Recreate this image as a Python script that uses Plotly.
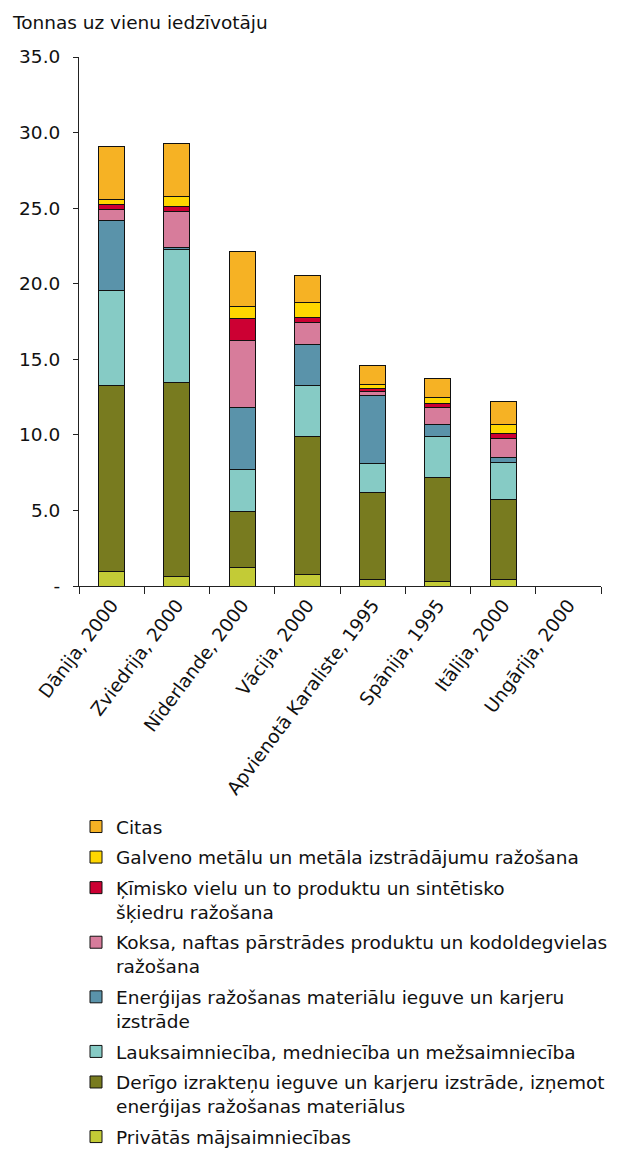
import plotly.graph_objects as go

countries = [
    "Dānija, 2000", "Zviedrija, 2000", "Nīderlande, 2000", "Vācija, 2000",
    "Apvienotā Karaliste, 1995", "Spānija, 1995", "Itālija, 2000", "Ungārija, 2000",
]

# tonnes per inhabitant, by source sector (Ungārija: no data)
privatas = [0.97, 0.64, 1.21, 0.75, 0.40, 0.29, 0.40, None]
derigo = [12.28, 12.85, 3.71, 9.14, 5.76, 6.86, 5.30, None]
lauksaimn = [6.31, 8.76, 2.81, 3.36, 1.92, 2.72, 2.49, None]
energijas = [4.63, 0.16, 4.06, 2.71, 4.50, 0.79, 0.33, None]
koksa = [0.69, 2.34, 4.48, 1.46, 0.31, 1.13, 1.24, None]
kimisko = [0.33, 0.33, 1.46, 0.35, 0.16, 0.26, 0.35, None]
galveno = [0.33, 0.70, 0.73, 1.00, 0.31, 0.42, 0.57, None]
citas = [3.51, 3.47, 3.70, 1.79, 1.23, 1.24, 1.55, None]

y_ticks = [0, 5, 10, 15, 20, 25, 30, 35]
y_tick_text = ["-", "5.0", "10.0", "15.0", "20.0", "25.0", "30.0", "35.0"]

# stacked bottom-to-top
series = [
    ("Privātās mājsaimniecības", privatas, "#C3CB36"),
    ("Derīgo izrakteņu ieguve un karjeru izstrāde, izņemot<br>enerģijas ražošanas materiālus", derigo, "#787B1F"),
    ("Lauksaimniecība, medniecība un mežsaimniecība", lauksaimn, "#86CBC5"),
    ("Enerģijas ražošanas materiālu ieguve un karjeru<br>izstrāde", energijas, "#5A93AA"),
    ("Koksa, naftas pārstrādes produktu un kodoldegvielas<br>ražošana", koksa, "#D77C9B"),
    ("Ķīmisko vielu un to produktu un sintētisko<br>šķiedru ražošana", kimisko, "#CC0033"),
    ("Galveno metālu un metāla izstrādājumu ražošana", galveno, "#FFD600"),
    ("Citas", citas, "#F6B224"),
]

FONT = "Verdana, DejaVu Sans, sans-serif"
FS = 18.5
INK = "#111111"
W, H = 630, 1149
L, R, T, B = 79, 29, 57, 563

fig = go.Figure()
n = len(series)
for i, (name, vals, color) in enumerate(series):
    fig.add_trace(go.Bar(
        x=countries, y=vals, name=name,
        legendgroup=f"g{i}", legendrank=n - i,
        marker=dict(color=color, line=dict(color=INK, width=1)),
    ))

plot_h = H - T - B
plot_w = W - L - R

fig.update_layout(
    width=W, height=H,
    barmode="stack", bargap=0.6,
    plot_bgcolor="white", paper_bgcolor="white",
    font=dict(family=FONT, size=FS, color=INK),
    margin=dict(l=L, r=R, t=T, b=B, autoexpand=False),
    title=dict(
        text="Tonnas uz vienu iedzīvotāju",
        x=13 / W, xanchor="left", xref="container",
        y=1 - 23 / H, yanchor="middle", yref="container",
        font=dict(family=FONT, size=FS, color=INK),
    ),
    xaxis=dict(
        showline=True, linecolor="#222222", linewidth=1,
        ticks="outside", ticklen=7, tickcolor="#222222", tickson="boundaries",
        tickangle=-53, showgrid=False,
        tickfont=dict(family=FONT, size=FS, color=INK),
    ),
    yaxis=dict(
        range=[0, 35], showline=True, linecolor="#222222", linewidth=1,
        ticks="outside", ticklen=5, tickcolor="#222222",
        tickvals=y_ticks, ticktext=y_tick_text, showgrid=False, zeroline=False,
        ticklabelstandoff=9,
        tickfont=dict(family=FONT, size=FS, color=INK),
    ),
    legend=dict(
        x=(76 - L) / plot_w, xanchor="left",
        y=(T + plot_h - 808) / plot_h, yanchor="top",
        traceorder="grouped", tracegroupgap=3.5, valign="top",
        font=dict(family=FONT, size=FS, color=INK),
        bgcolor="rgba(0,0,0,0)",
    ),
    showlegend=True,
)

fig.write_html("out.html")
